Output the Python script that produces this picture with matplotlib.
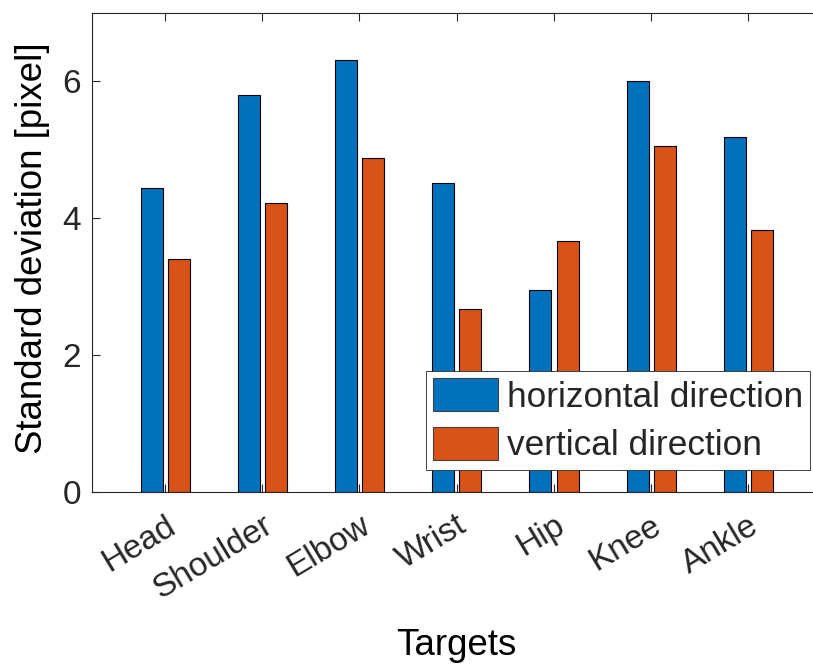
import numpy as np
import matplotlib.pyplot as plt

# joint targets and the spread of the estimate in each direction
targets = ["Head", "Shoulder", "Elbow", "Wrist", "Hip", "Knee", "Ankle"]
std_horizontal = [4.45, 5.80, 6.31, 4.52, 2.95, 6.00, 5.19]
std_vertical = [3.40, 4.23, 4.88, 2.67, 3.67, 5.05, 3.83]

BLUE = "#0072BD"
ORANGE = "#D95319"
DARK = "#262626"

plt.rcParams["font.family"] = ["Liberation Sans", "DejaVu Sans"]
plt.rcParams["text.color"] = DARK

fig = plt.figure(figsize=(8.13, 6.64), dpi=100)
# the box runs a little past the right edge of the figure
ax = fig.add_axes([0.1132, 0.259, 0.8967, 0.7214])

x = np.arange(1, len(targets) + 1)
w = 0.226
ax.bar(x - 0.138, std_horizontal, w, color=BLUE, edgecolor="black",
       linewidth=0.8, label="horizontal direction")
ax.bar(x + 0.142, std_vertical, w, color=ORANGE, edgecolor="black",
       linewidth=0.8, label="vertical direction")

ax.set_xlim(0.25, 7.75)
ax.set_ylim(0, 7)
ax.set_yticks([0, 2, 4, 6])
ax.set_xticks(x)
ax.set_xticklabels(targets, rotation=31, ha="right", va="top",
                   rotation_mode="anchor")

ax.tick_params(direction="in", length=6, width=0.8, colors=DARK,
               labelsize=24, top=True, right=True)
ax.tick_params(axis="y", pad=8)
ax.tick_params(axis="x", pad=13)
for s in ax.spines.values():
    s.set_color(DARK)
    s.set_linewidth(0.8)

ax.set_ylabel("Standard deviation [pixel]", fontsize=26.4)
ax.yaxis.set_label_coords(-0.058, 0.51)
ax.set_xlabel("Targets", fontsize=26.4)
ax.xaxis.set_label_coords(0.5, -0.284)

leg = ax.legend(loc="upper left", bbox_to_anchor=(425.7 / 813, 1 - 371 / 664),
                bbox_transform=fig.transFigure, fontsize=25.4, frameon=True,
                fancybox=False, framealpha=1, handlelength=1.85,
                handleheight=1.06, handletextpad=0.25, borderpad=0.2,
                labelspacing=0.38, borderaxespad=0)
leg.get_frame().set_edgecolor("#404040")
leg.get_frame().set_linewidth(0.7)
for p in leg.get_patches():
    p.set_edgecolor("#404040")

fig.savefig("out.png", dpi=100)
